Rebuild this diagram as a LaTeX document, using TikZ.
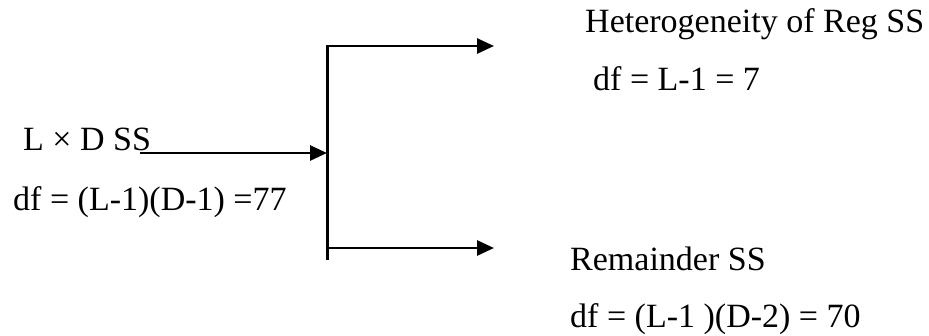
\documentclass[tikz,border=0pt]{standalone}
\usepackage{fontspec}
\setmainfont{Liberation Serif}
\usetikzlibrary{arrows.meta}
\begin{document}
\begin{tikzpicture}[x=1pt,y=-1pt,
  lbl/.style={anchor=base west,inner sep=0pt,font=\fontsize{34}{40}\selectfont},
  conn/.style={line width=2.8pt,-{Triangle[length=17pt,width=15pt]}},
  bar/.style={line width=3pt}]
\useasboundingbox (0,0) rectangle (929,335);
\node[lbl] (het) at (585,32) {Heterogeneity of Reg SS};
\node[lbl] (hetdf) at (593,90) {df = L-1 = 7};
\node[lbl] (lxd) at (23,150) {L × D SS};
\node[lbl] (lxddf) at (13,210) {df = (L-1)(D-1) =77};
\node[lbl] (rem) at (570,270) {Remainder SS};
\node[lbl] (remdf) at (570,327) {df = (L-1 )(D-2) = 70};
\coordinate (top) at (327,45);
\coordinate (bot) at (327,260);
\coordinate (mid) at (327,153);
\coordinate (start) at (140,153);
\coordinate (j1) at (326,46);
\coordinate (j2) at (327,248);
\coordinate (e1) at (494,46);
\coordinate (e2) at (494,248);
\draw[bar] (top) -- (bot);
\draw[conn] (start) -- (mid);
\draw[conn] (j1) -- (e1);
\draw[conn] (j2) -- (e2);
\end{tikzpicture}
\end{document}
